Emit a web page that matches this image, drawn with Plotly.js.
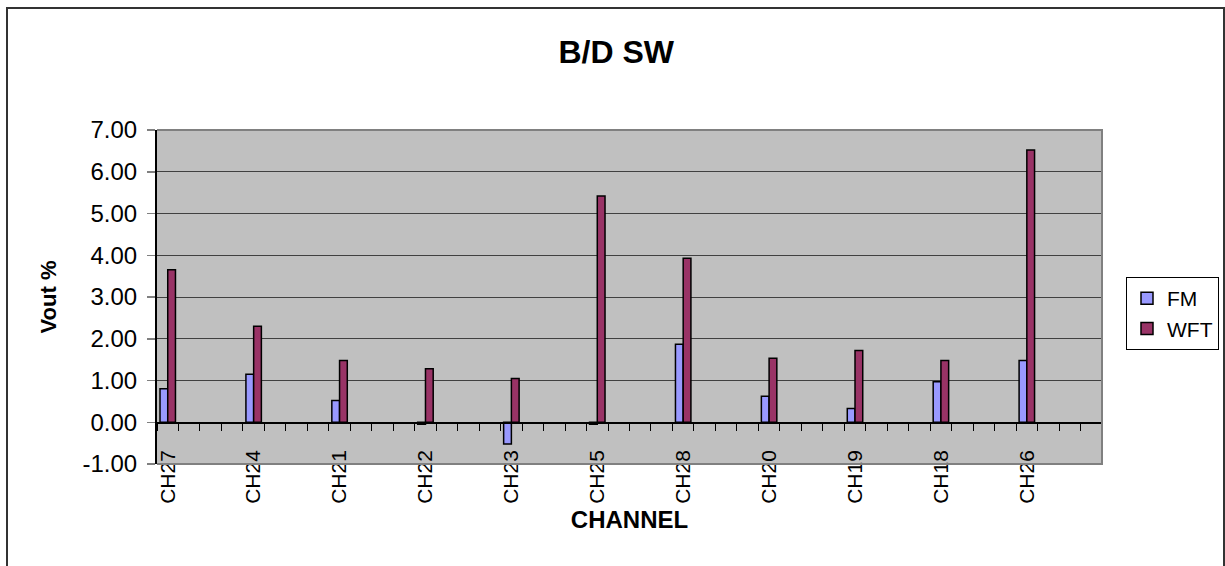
<!DOCTYPE html>
<html>
<head>
<meta charset="utf-8">
<script src="https://cdn.plot.ly/plotly-3.0.1.min.js"></script>
<style>html,body{margin:0;padding:0;background:#fff;}#chart{width:1225px;height:566px;}</style>
</head>
<body>
<div id="chart"></div>
<script>
const channels = ["CH27","CH24","CH21","CH22","CH23","CH25","CH28","CH20","CH19","CH18","CH26"];
const fmValues = [0.80, 1.15, 0.52, -0.05, -0.52, -0.05, 1.87, 0.62, 0.33, 0.97, 1.48];
const wftValues = [3.65, 2.30, 1.48, 1.28, 1.05, 5.42, 3.93, 1.53, 1.72, 1.48, 6.52];
const slotsPerChannel = 4;   // the category axis has 4 slots per labelled channel
const yTickValues = [-1, 0, 1, 2, 3, 4, 5, 6, 7];

const nSlots = channels.length * slotsPerChannel;
const xPos = channels.map((c, i) => i * slotsPerChannel);
const yTickText = yTickValues.map(v => v.toFixed(2));
const FONT = "Liberation Sans, Arial, sans-serif";
const BAR_W = 0.36;

const traces = [
  {type: "bar", name: "FM", x: xPos, y: fmValues, width: BAR_W, offset: -BAR_W,
   marker: {color: "#9999FF", line: {color: "#000000", width: 1.5}}},
  {type: "bar", name: "WFT", x: xPos, y: wftValues, width: BAR_W, offset: 0,
   marker: {color: "#993366", line: {color: "#000000", width: 1.5}}}
];

const yMin = yTickValues[0], yMax = yTickValues[yTickValues.length - 1];
const zeroFrac = (0 - yMin) / (yMax - yMin);

const layout = {
  width: 1225, height: 566,
  margin: {l: 157, r: 123, t: 130, b: 102, autoexpand: false},
  paper_bgcolor: "#ffffff",
  plot_bgcolor: "#C0C0C0",
  barmode: "overlay",
  showlegend: true,
  font: {family: FONT, color: "#000000", size: 24},
  title: {text: "<b>B/D SW</b>", font: {family: FONT, size: 32, color: "#000"},
          x: 0.503, xanchor: "center", y: 1 - 52/566, yanchor: "middle"},
  xaxis: {
    type: "linear",
    range: [-0.5, nSlots - 0.5],
    anchor: "free", position: zeroFrac,
    tickmode: "array", tickvals: xPos, ticktext: channels,
    tickangle: -90,
    ticks: "outside", ticklen: 8, tickcolor: "rgba(0,0,0,0)",
    ticklabelstandoff: 10,
    tickfont: {family: FONT, size: 21, color: "#000"},
    minor: {tickmode: "linear", tick0: -0.5, dtick: 1, ticks: "outside", ticklen: 7,
            tickwidth: 1, tickcolor: "#000000", showgrid: false},
    showline: true, linecolor: "#000000", linewidth: 1.5,
    showgrid: false, zeroline: false,
    title: {text: "<b>CHANNEL</b>", font: {family: FONT, size: 24, color: "#000"}, standoff: 8},
    automargin: false
  },
  yaxis: {
    range: [yMin, yMax],
    tickmode: "array", tickvals: yTickValues, ticktext: yTickText,
    ticks: "outside", ticklen: 8, tickcolor: "#808080", tickwidth: 1.5,
    ticklabelstandoff: 5,
    tickfont: {family: FONT, size: 24, color: "#000"},
    showline: true, linecolor: "#000000", linewidth: 2,
    showgrid: true, gridcolor: "#404040", gridwidth: 1,
    zeroline: false,
    title: {text: "<b>Vout %</b>", font: {family: FONT, size: 22, color: "#000"}, standoff: 20},
    automargin: false
  },
  legend: {
    x: (1126 - 157) / 945, xanchor: "left",
    y: (464 - 277) / 334, yanchor: "top",
    bgcolor: "#ffffff", bordercolor: "#000000", borderwidth: 1,
    font: {family: FONT, size: 21, color: "#000"},
    itemwidth: 30,
    tracegroupgap: 0
  },
  shapes: [
    {type: "path", xref: "paper", yref: "paper", layer: "above",
     path: "M0,0 L1,0 L1,1 L0,1", line: {color: "#808080", width: 2}},
    {type: "rect", xref: "paper", yref: "paper", layer: "above",
     x0: (7 - 157) / 945, x1: (1224 - 157) / 945,
     y0: (464 - 580) / 334, y1: (464 - 8) / 334,
     line: {color: "#333333", width: 2}, fillcolor: "rgba(0,0,0,0)"}
  ]
};

Plotly.newPlot("chart", traces, layout, {displayModeBar: false, staticPlot: true});
</script>
</body>
</html>
